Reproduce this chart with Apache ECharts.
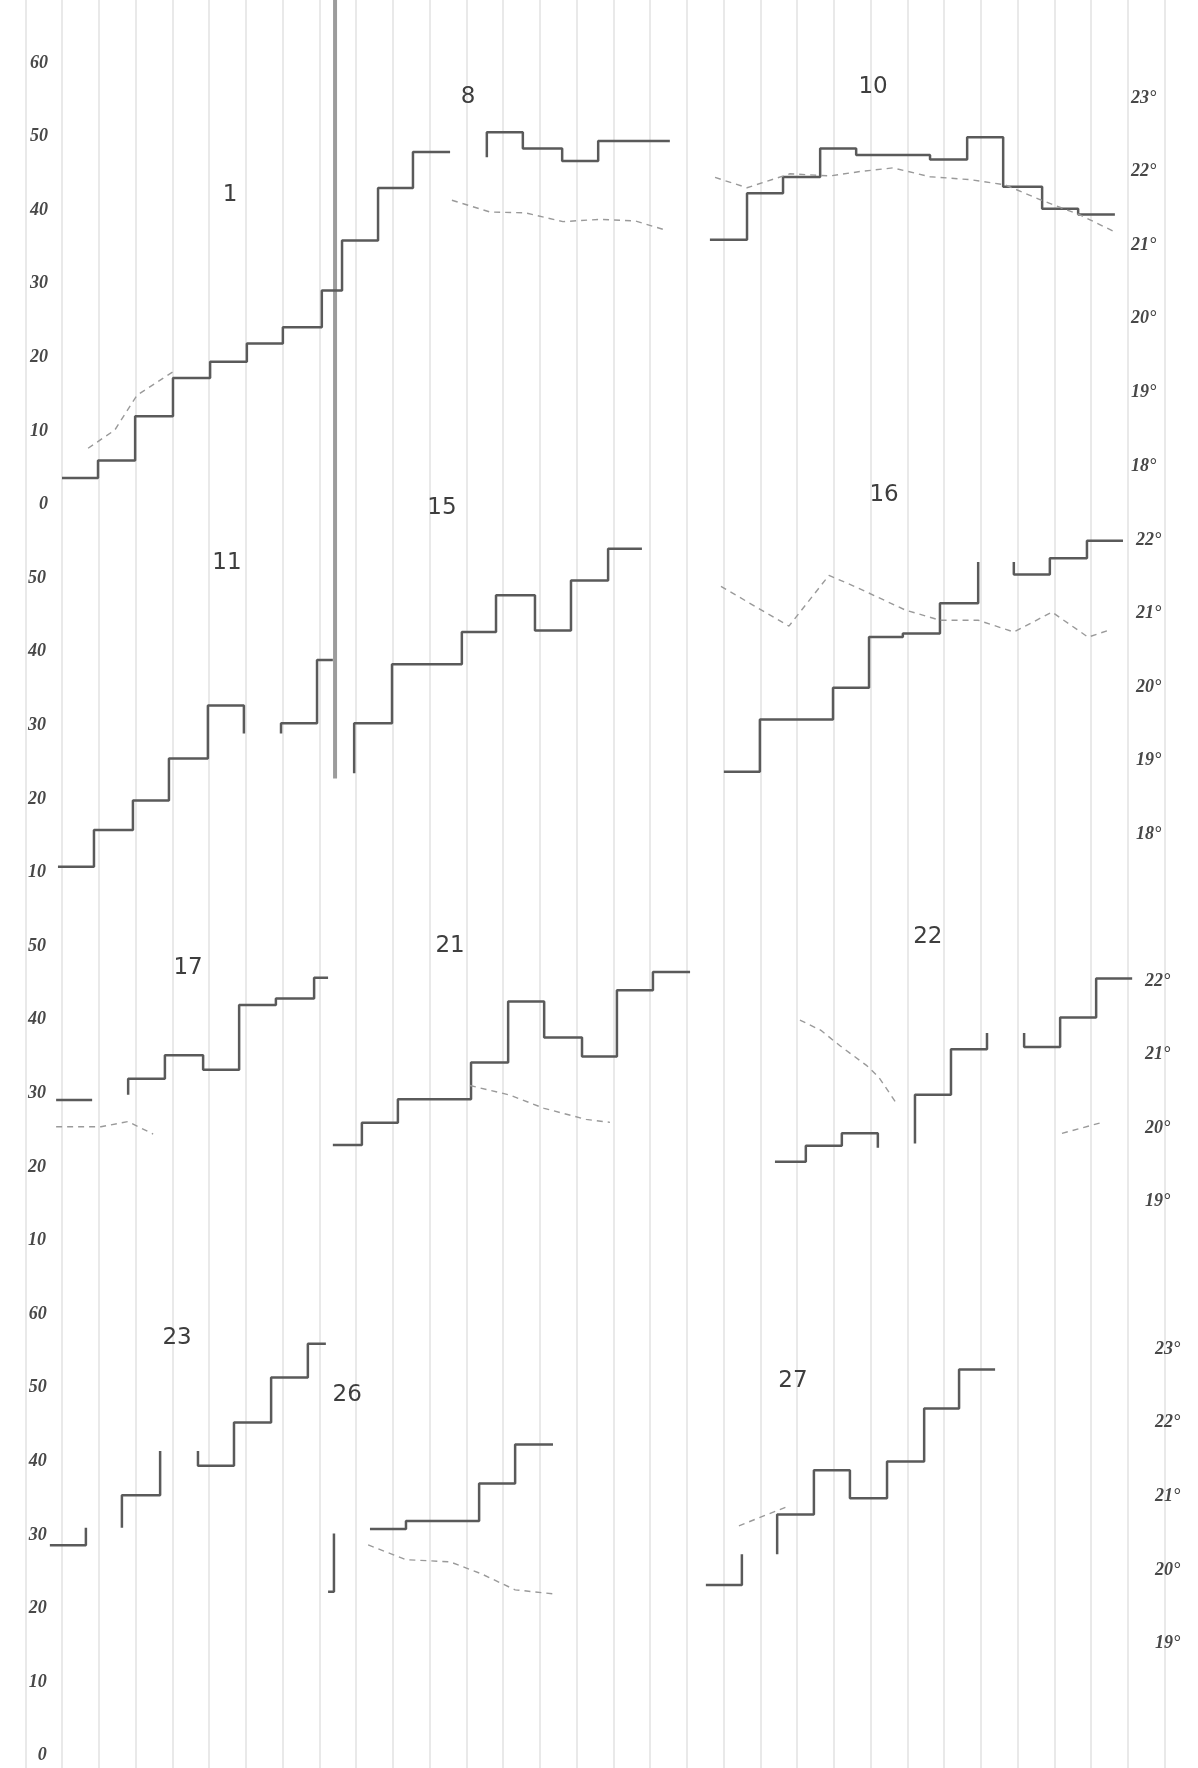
<!DOCTYPE html>
<html>
<head>
<meta charset="utf-8">
<script src="https://cdn.jsdelivr.net/npm/echarts@6.0.0/dist/echarts.min.js"></script>
<style>
html,body{margin:0;padding:0;background:#fff;}
#c{width:1198px;height:1768px;}
</style>
</head>
<body>
<div id="c"></div>
<script>
// ---------------- DATA (x = hour index, y = left scale 0–60, temperatures in °) ----------------
// Row 1
const p1      = [[0,3.6],[0.98,6.0],[1.99,12.0],[3.02,17.2],[4.03,19.4],[5.03,21.9],[6.01,24.1],[7.07,29.1],[7.62,35.9],[8.60,43.0],[9.55,47.9],[10.56,47.9]];
const p1Temp  = [[0.71,18.24],[1.44,18.49],[2.04,18.96],[3.02,19.28]];
const p8      = [[11.56,47.2],[11.56,50.6],[12.54,48.4],[13.61,46.7],[14.59,49.4],[16.54,49.4]];
const p8Temp  = [[10.61,21.61],[11.65,21.45],[12.60,21.44],[13.63,21.32],[14.64,21.35],[15.59,21.33],[16.46,21.20]];
const p10     = [[17.63,36.0],[18.64,42.3],[19.62,44.5],[20.63,48.4],[21.61,47.5],[23.62,46.9],[24.63,49.9],[25.61,43.2],[26.67,40.2],[27.65,39.4],[28.65,39.4]];
const p10Temp = [[17.77,21.92],[18.64,21.78],[19.13,21.86],[19.81,21.97],[20.90,21.94],[21.71,22.0],[22.61,22.05],[23.62,21.93],[24.71,21.89],[25.66,21.82],[26.61,21.62],[27.70,21.41],[28.65,21.18]];
// Row 2
const p11a    = [[-0.11,10.8],[0.87,15.8],[1.93,19.8],[2.91,25.5],[3.97,32.7],[4.95,28.9]];
const p11b    = [[5.96,28.9],[5.96,30.3],[6.94,38.9],[7.37,38.9]];
const p15     = [[7.95,23.5],[7.95,30.3],[8.98,38.3],[10.88,42.7],[11.81,47.7],[12.87,42.9],[13.85,49.7],[14.86,54.0],[15.78,54.0]];
const p16a    = [[18.01,23.7],[18.99,30.8],[20.98,35.1],[21.96,42.0],[22.88,42.5],[23.89,46.6],[24.93,52.2]];
const p16b    = [[25.90,52.2],[25.90,50.5],[26.88,52.7],[27.89,55.1],[28.87,55.1]];
const p16Temp = [[17.93,21.37],[19.78,20.83],[20.87,21.52],[21.61,21.36],[22.94,21.05],[23.89,20.91],[24.93,20.91],[25.90,20.75],[26.94,21.02],[27.92,20.68],[28.46,20.77]];
// Row 3
const p17a    = [[-0.16,29.1],[0.82,29.1]];
const p17b    = [[1.80,29.8],[1.80,32.0],[2.80,35.2],[3.84,33.2],[4.82,42.0],[5.82,42.9],[6.86,45.7],[7.24,45.7]];
const p17Temp = [[-0.16,20.02],[1.06,20.02],[1.80,20.09],[2.48,19.92]];
const p21     = [[7.37,23.0],[8.16,26.0],[9.14,29.2],[11.13,34.2],[12.14,42.5],[13.12,37.6],[14.15,35.0],[15.10,44.0],[16.08,46.5],[17.09,46.5]];
const p21Temp = [[11.10,20.58],[12.19,20.45],[13.12,20.27],[14.26,20.12],[14.91,20.08]];
const p22a    = [[19.40,20.7],[20.24,22.9],[21.22,24.6],[22.20,22.6]];
const p22b    = [[23.21,23.2],[23.21,29.8],[24.19,36.0],[25.17,38.2]];
const p22c    = [[26.18,38.2],[26.18,36.3],[27.16,40.3],[28.14,45.6],[29.12,45.6]];
const p22Temp = [[20.08,21.47],[20.65,21.33],[21.17,21.12],[21.90,20.85],[22.23,20.69],[22.69,20.35]];
const p22Temp2= [[27.21,19.93],[28.24,20.07]];
// Row 4
const p23a    = [[-0.33,28.6],[0.65,31.0]];
const p23b    = [[1.63,31.0],[1.63,35.4],[2.67,41.4]];
const p23c    = [[3.70,41.4],[3.70,39.4],[4.68,45.3],[5.69,51.4],[6.69,56.0],[7.18,56.0]];
const p26a    = [[7.24,22.3],[7.40,30.2]];
const p26b    = [[8.38,30.8],[9.36,31.9],[11.35,37.0],[12.33,42.3],[13.36,42.3]];
const p26Temp = [[8.33,20.34],[9.36,20.14],[10.56,20.11],[11.40,19.95],[12.33,19.73],[13.47,19.67]];
const p27a    = [[17.52,23.2],[18.50,27.4]];
const p27b    = [[19.46,27.4],[19.46,32.8],[20.46,38.8],[21.44,35.0],[22.45,40.0],[23.46,47.2],[24.41,52.5],[25.39,52.5]];
const p27Temp = [[18.42,20.6],[19.73,20.86]];

// tick labels
const leftTicksFull  = [0,10,20,30,40,50,60];
const leftTicksInner = [10,20,30,40,50];
const rightTicksRow1 = [18,19,20,21,22,23];
const rightTicksRow2 = [18,19,20,21,22];
const rightTicksRow3 = [19,20,21,22];
const rightTicksRow4 = [19,20,21,22,23];

// panel numbers and where they sit (row, hour, left-scale value)
const panelNames = ['1','8','10','11','15','16','17','21','22','23','26','27'];
const panelRows  = [0,0,0,1,1,1,2,2,2,3,3,3];
const panelAt    = [[4.57,42.1],[11.05,55.4],[22.07,56.7],[4.49,52.0],[10.34,59.5],[22.37,61.3],[3.43,47.1],[10.56,50.0],[23.56,51.2],[3.13,56.7],[7.76,49.0],[19.89,50.9]];

// ---------------- LAYOUT ----------------
const U = 36.75, TEN = 73.6;
const X_MIN = -1, X_MAX = 30;
const GRID_LEFT = 62 - U;
const GRID_W = (X_MAX - X_MIN) * U;
const ROW_TOP = [63, 63 + 6*TEN, 63 + 11*TEN, 63 + 17*TEN];
const ROW_H = 6 * TEN;
const RIGHT_MIN = [17.475, 16.481, 17.473, 17.475];
const LEFT_OFF = [-28.75, -26.75, -26.75, -27.5];
const RIGHT_OFF = [-35.5, -30.5, -21.5, -11.5];
const leftTicks = [leftTicksFull, leftTicksInner, leftTicksInner, leftTicksFull];
const rightTicks = [rightTicksRow1, rightTicksRow2, rightTicksRow3, rightTicksRow4];

const labelFont = {fontFamily:'Liberation Serif', fontStyle:'italic', fontWeight:'bold', fontSize:18, color:'#484848'};

const grids = [], xAxes = [], yAxes = [];
for (let r = 0; r < 4; r++) {
  grids.push({left: GRID_LEFT, width: GRID_W, top: ROW_TOP[r], height: ROW_H, containLabel:false});
  xAxes.push({gridIndex:r, type:'value', min:X_MIN, max:X_MAX, show:false});
  yAxes.push({gridIndex:r, type:'value', position:'left', min:0, max:60, offset:LEFT_OFF[r],
    axisLine:{show:false}, axisTick:{show:false}, splitLine:{show:false},
    axisLabel:Object.assign({customValues:leftTicks[r], margin:6}, labelFont)});
  yAxes.push({gridIndex:r, type:'value', position:'right', min:RIGHT_MIN[r], max:RIGHT_MIN[r]+6, offset:RIGHT_OFF[r],
    axisLine:{show:false}, axisTick:{show:false}, splitLine:{show:false},
    axisLabel:Object.assign({customValues:rightTicks[r], margin:2, formatter: v => v + '°'}, labelFont)});
}
// background grid carrying the faint vertical rulings
grids.push({left: GRID_LEFT, width: GRID_W, top: 0, height: 1768});
xAxes.push({gridIndex:4, type:'value', min:X_MIN, max:X_MAX, interval:1,
  axisLine:{show:false}, axisTick:{show:false}, axisLabel:{show:false},
  splitLine:{show:true, lineStyle:{color:'rgba(0,0,0,0.085)', width:2}}});
yAxes.push({gridIndex:4, type:'value', min:0, max:1, show:false});

const stepPieces = [
  [0,p1],[0,p8],[0,p10],
  [1,p11a],[1,p11b],[1,p15],[1,p16a],[1,p16b],
  [2,p17a],[2,p17b],[2,p21],[2,p22a],[2,p22b],[2,p22c],
  [3,p23a],[3,p23b],[3,p23c],[3,p26a],[3,p26b],[3,p27a],[3,p27b]
];
const tempPieces = [
  [0,p1Temp],[0,p8Temp],[0,p10Temp],
  [1,p16Temp],
  [2,p17Temp],[2,p21Temp],[2,p22Temp],[2,p22Temp2],
  [3,p26Temp],[3,p27Temp]
];

const series = [{type:'line', xAxisIndex:4, yAxisIndex:8, data:[], silent:true}];
stepPieces.forEach(([r, d]) => series.push({
  type:'line', xAxisIndex:r, yAxisIndex:2*r, data:d, step:'end', symbol:'none',
  clip:false, silent:true, animation:false,
  lineStyle:{color:'#5a5a5a', width:2.5}
}));
tempPieces.forEach(([r, d]) => series.push({
  type:'line', xAxisIndex:r, yAxisIndex:2*r+1, data:d, symbol:'none',
  clip:false, silent:true, animation:false,
  lineStyle:{color:'#9a9a9a', width:1.4, type:[6,5]}
}));

const chart = echarts.init(document.getElementById('c'), null, {renderer:'canvas'});
chart.setOption({
  backgroundColor:'#ffffff',
  animation:false,
  grid:grids, xAxis:xAxes, yAxis:yAxes, series:series
});

// decorations computed through the axes
const toPx = (r, u, v) => chart.convertToPixel({xAxisIndex:r, yAxisIndex:2*r}, [u, v]);
const graphics = [];
const spineTop = toPx(0, 7.43, 68.6), spineBot = toPx(1, 7.43, 22.8);
graphics.push({type:'line', silent:true, z:-1,
  shape:{x1:spineTop[0], y1:spineTop[1], x2:spineBot[0], y2:spineBot[1]},
  style:{stroke:'#9c9c9c', lineWidth:4}});
panelNames.forEach((name, i) => {
  const p = toPx(panelRows[i], panelAt[i][0], panelAt[i][1]);
  graphics.push({type:'text', x:p[0], y:p[1], silent:true,
    style:{text:name, font:'23px "DejaVu Sans"', fill:'#3e3e3e', align:'center', verticalAlign:'middle'}});
});
chart.setOption({graphic:graphics});
</script>
</body>
</html>
